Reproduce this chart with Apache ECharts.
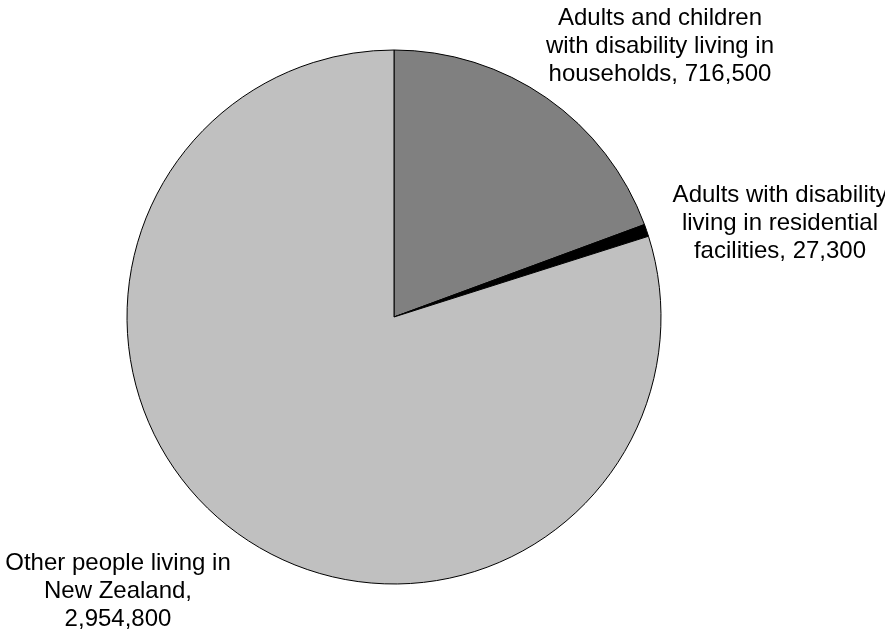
<!DOCTYPE html>
<html>
<head>
<meta charset="utf-8">
<script src="https://cdn.jsdelivr.net/npm/echarts@6/dist/echarts.min.js"></script>
<style>
html,body{margin:0;padding:0;background:#fff;}
#main{width:885px;height:630px;}
</style>
</head>
<body>
<div id="main"></div>
<script>
const categories = [
  "Adults and children\nwith disability living in\nhouseholds",
  "Adults with disability\nliving in residential\nfacilities",
  "Other people living in\nNew Zealand"
];
const separators = [", ", ", ", ",\n"];
const values = [716500, 27300, 2954800];
const colors = ["#808080", "#000000", "#C0C0C0"];
const labelPos = [[660, 46], [780, 223], [118, 591]];

const fmt = v => v.toString().replace(/\B(?=(\d{3})+(?!\d))/g, ",");

const chart = echarts.init(document.getElementById('main'), null, {renderer: 'canvas'});
chart.setOption({
  animation: false,
  backgroundColor: '#ffffff',
  series: [{
    type: 'pie',
    center: [394, 317],
    radius: 267,
    startAngle: 90,
    clockwise: true,
    data: categories.map((c, i) => ({
      name: c,
      value: values[i],
      itemStyle: {color: colors[i]}
    })),
    itemStyle: {borderColor: '#000', borderWidth: 1},
    emphasis: {disabled: true},
    label: {
      show: true,
      position: 'outside',
      alignTo: 'none',
      overflow: 'none',
      color: '#000',
      fontFamily: 'Liberation Sans, Arial, sans-serif',
      fontSize: 24,
      lineHeight: 28,
      align: 'center',
      formatter: p => categories[p.dataIndex] + separators[p.dataIndex] + fmt(values[p.dataIndex])
    },
    labelLine: {show: false},
    labelLayout: p => ({
      x: labelPos[p.dataIndex][0],
      y: labelPos[p.dataIndex][1],
      align: 'center',
      verticalAlign: 'middle',
      hideOverlap: false
    })
  }]
});
</script>
</body>
</html>
